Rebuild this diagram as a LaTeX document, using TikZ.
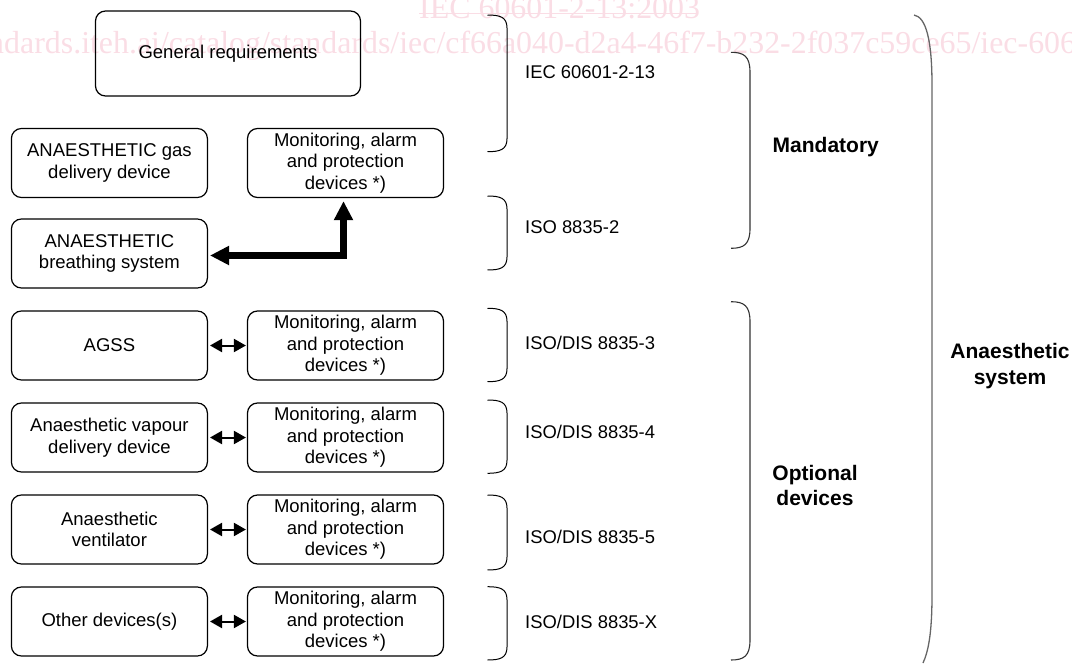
\documentclass[tikz,border=0pt]{standalone}
\usepackage{fontspec}
\setmainfont{Liberation Sans}
\newfontfamily\wmfont{Liberation Serif}
\usetikzlibrary{arrows.meta}
\definecolor{wmpink}{RGB}{250,221,229}
\begin{document}
\begin{tikzpicture}[x=1pt,y=-1pt,
  box/.style={draw, line width=1.2pt, rounded corners=10pt, minimum width=196pt,
    minimum height=69pt, inner sep=0pt, align=center,
    font=\fontsize{18.5}{21.5}\selectfont},
  lbl/.style={anchor=west, inner sep=0pt, font=\fontsize{18.4}{21.5}\selectfont},
  blbl/.style={inner sep=0pt, align=center, font=\fontsize{21}{25.5}\selectfont\bfseries},
  wm/.style={inner sep=0pt, text=wmpink, font=\fontsize{31.9}{36}\selectfont\wmfont},
  thickarr/.style={line width=6.5pt, {Triangle[length=19pt,width=18pt]}-{Triangle[length=19pt,width=18pt]}},
  smallarr/.style={line width=2pt, {Triangle[length=12pt,width=13pt]}-{Triangle[length=12pt,width=13pt]}},
  sbr/.style={line width=1pt, black},
  mbr/.style={line width=1.1pt, black!80},
  bbr/.style={line width=1.3pt, black!60}]
\useasboundingbox (0,0) rectangle (1072,664);
% watermark texts
\begin{scope}
\clip (0,0) rectangle (1072,664);
\node[wm, anchor=base west] (wmurl) at (-47.4,53) {standards.iteh.ai/catalog/standards/iec/cf66a040-d2a4-46f7-b232-2f037c59ce65/iec-60601-2-13-2003};
\node[wm, anchor=base west] (wmhead) at (419,18) {IEC 60601-2-13:2003};
\draw[wmpink, line width=1.5pt] (wmhead.base west) ++(0,-4.5) -- ++(279,0);
\end{scope}
% boxes
\node[box, minimum width=265pt, minimum height=85pt] (gen) at (228,53.5) {General requirements};
\node[box] (gas) at (109.4,163) {ANAESTHETIC gas\\delivery device};
\node[box] (mon1) at (345.5,163) {Monitoring, alarm\\and protection\\devices *)};
\node[box] (breath) at (109.4,253.5) {ANAESTHETIC\\breathing system};
\node[box] (agss) at (109.4,345.5) {AGSS};
\node[box] (mon3) at (345.5,345.5) {Monitoring, alarm\\and protection\\devices *)};
\node[box] (vap) at (109.4,437.5) {Anaesthetic vapour\\delivery device};
\node[box] (mon4) at (345.5,437.5) {Monitoring, alarm\\and protection\\devices *)};
\node[box] (vent) at (109.4,529.5) {Anaesthetic\\ventilator};
\node[box] (mon5) at (345.5,529.5) {Monitoring, alarm\\and protection\\devices *)};
\node[box] (oth) at (109.4,621.5) {Other devices(s)};
\node[box] (monx) at (345.5,621.5) {Monitoring, alarm\\and protection\\devices *)};
% connectors
\draw[thickarr, shorten <=3pt, shorten >=2pt] ([xshift=-2pt]mon1.south) |- ([yshift=-2pt]breath.east);
\draw[smallarr, shorten <=2pt, shorten >=1pt] (agss.east) -- (mon3.west);
\draw[smallarr, shorten <=2pt, shorten >=1pt] (vap.east) -- (mon4.west);
\draw[smallarr, shorten <=2pt, shorten >=1pt] (vent.east) -- (mon5.west);
\draw[smallarr, shorten <=2pt, shorten >=1pt] (oth.east) -- (monx.west);
% standard labels
\node[lbl] (iec) at (525,72.3) {IEC 60601-2-13};
\node[lbl] (iso2) at (525,226.7) {ISO 8835-2};
\node[lbl] (iso3) at (525,343.3) {ISO/DIS 8835-3};
\node[lbl] (iso4) at (525,431.7) {ISO/DIS 8835-4};
\node[lbl] (iso5) at (525,536.7) {ISO/DIS 8835-5};
\node[lbl] (isox) at (525,621.7) {ISO/DIS 8835-X};
% small brackets
\foreach \t/\b in {15/151.7, 196/270, 308.3/381.7, 400/473.3, 495/570, 586.7/660} {
  \draw[sbr] (487.5,\t) .. controls (500,\t) and (507,\t+2) .. (507,\t+13)
    -- (507,\b-13) .. controls (507,\b-2) and (500,\b) .. (487.5,\b);
}
% medium brackets
\foreach \t/\b in {52.3/248.3, 301.7/660} {
  \draw[mbr] (731,\t) .. controls (744,\t) and (750,\t+4) .. (750,\t+20)
    -- (750,\b-20) .. controls (750,\b-4) and (744,\b) .. (731,\b);
}
% big bracket
\draw[bbr] (914,15) .. controls (926,17) and (932,40) .. (932,85)
  -- (932,595) .. controls (932,635) and (928,652) .. (923,663);
% group labels
\node[blbl, anchor=west] (mand) at (772.5,146.7) {Mandatory};
\node[blbl] (opt) at (815,485.5) {Optional\\devices};
\node[blbl] (sys) at (1010,366) {Anaesthetic\\system};
\end{tikzpicture}
\end{document}
